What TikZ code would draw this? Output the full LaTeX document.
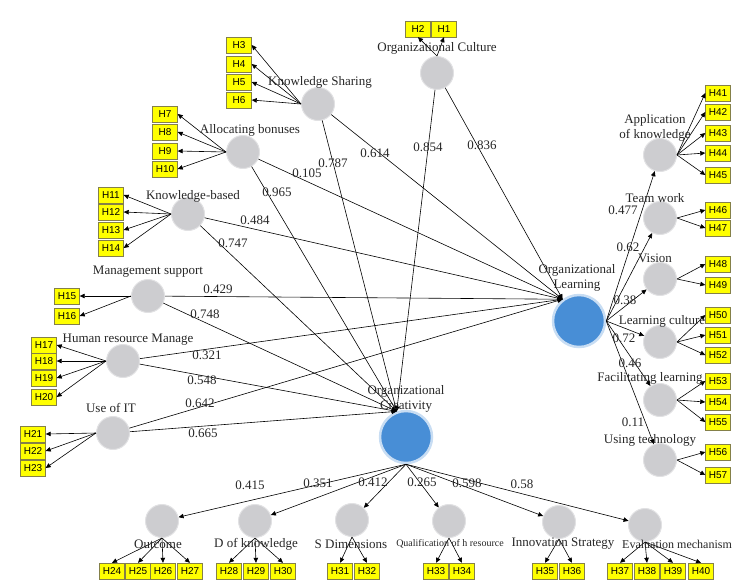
\documentclass[tikz,border=0pt]{standalone}
\usepackage{fontspec}
\setmainfont{Liberation Serif}
\newfontfamily\boxfont{Liberation Sans}
\usetikzlibrary{arrows.meta}
\definecolor{plsblue}{RGB}{72,142,214}
\definecolor{lvgray}{RGB}{205,205,208}
\definecolor{indyellow}{RGB}{255,255,0}
\begin{document}
\begin{tikzpicture}[x=1pt,y=-1pt,
    lv/.style={circle,fill=lvgray,draw=lvgray!60,line width=1pt,minimum size=33pt,inner sep=0pt},
    blv/.style={circle,fill=plsblue,draw=plsblue!30,line width=2.5pt,minimum size=52pt,inner sep=0pt},
    ind/.style={draw=black!55!yellow,fill=indyellow,minimum width=25pt,minimum height=16pt,inner sep=1pt,font=\boxfont\fontsize{10}{10}\selectfont},
    lbl/.style={font=\fontsize{13}{15}\selectfont,align=center,text=black!85,inner sep=0pt},
    coef/.style={font=\fontsize{13}{13}\selectfont,text=black!85,inner sep=0pt},
    arr/.style={-{Triangle[length=5pt,width=4.5pt]},black,line width=0.6pt}]
    \useasboundingbox (0,0) rectangle (735,582);
    % latent variables
    \node[blv] (oc) at (406,437) {};
    \node[blv] (ol) at (579,321) {};
    \node[lv] (ocu) at (437,73) {};
    \node[lv] (ks) at (318,104) {};
    \node[lv] (ab) at (243,152) {};
    \node[lv] (kb) at (188,214) {};
    \node[lv] (ms) at (148,296) {};
    \node[lv] (hrm) at (123,361) {};
    \node[lv] (uit) at (113,433) {};
    \node[lv] (app) at (660,155) {};
    \node[lv] (tw) at (660,218) {};
    \node[lv] (vis) at (660,279) {};
    \node[lv] (lc) at (660,342) {};
    \node[lv] (fl) at (660,400) {};
    \node[lv] (ut) at (660,460) {};
    \node[lv] (out) at (162,521) {};
    \node[lv] (dk) at (255,521) {};
    \node[lv] (sd) at (352,520) {};
    \node[lv] (qh) at (449,521) {};
    \node[lv] (is) at (559,522) {};
    \node[lv] (em) at (645,525) {};
    % inner model
    \foreach \s in {ocu,ks,ab,kb,ms,hrm,uit} {
        \draw[arr] (\s) -- (oc.110);
        \draw[arr] (\s) -- (ol.127);
    }
    \foreach \t in {app,tw,vis,lc,fl,ut} \draw[arr] (ol.east) -- (\t);
    \foreach \t in {out,dk,sd,qh,is,em} \draw[arr] (oc.south) -- (\t);
    % indicators
    \foreach \n/\x in {2/418,1/444} {
        \node[ind] (h\n) at (\x,29) {H\n};
        \draw[arr] (ocu.north) -- (h\n.south);
    }
    \foreach \n/\y in {3/45,4/64,5/82,6/100} {
        \node[ind] (h\n) at (239,\y) {H\n};
        \draw[arr] (ks.west) -- (h\n.east);
    }
    \foreach \n/\y in {7/114,8/132,9/151,10/169} {
        \node[ind] (h\n) at (165,\y) {H\n};
        \draw[arr] (ab.west) -- (h\n.east);
    }
    \foreach \n/\y in {11/195,12/212,13/230,14/248} {
        \node[ind] (h\n) at (111,\y) {H\n};
        \draw[arr] (kb.west) -- (h\n.east);
    }
    \foreach \n/\y in {15/296,16/316} {
        \node[ind] (h\n) at (67,\y) {H\n};
        \draw[arr] (ms.west) -- (h\n.east);
    }
    \foreach \n/\y in {17/345,18/361,19/378,20/397} {
        \node[ind] (h\n) at (44,\y) {H\n};
        \draw[arr] (hrm.west) -- (h\n.east);
    }
    \foreach \n/\y in {21/434,22/451,23/468} {
        \node[ind] (h\n) at (33,\y) {H\n};
        \draw[arr] (uit.west) -- (h\n.east);
    }
    \foreach \n/\y in {41/93,42/112,43/133,44/153,45/175} {
        \node[ind] (h\n) at (718,\y) {H\n};
        \draw[arr] (app.east) -- (h\n.west);
    }
    \foreach \n/\y in {46/210,47/228} {
        \node[ind] (h\n) at (718,\y) {H\n};
        \draw[arr] (tw.east) -- (h\n.west);
    }
    \foreach \n/\y in {48/264,49/285} {
        \node[ind] (h\n) at (718,\y) {H\n};
        \draw[arr] (vis.east) -- (h\n.west);
    }
    \foreach \n/\y in {50/315,51/335,52/355} {
        \node[ind] (h\n) at (718,\y) {H\n};
        \draw[arr] (lc.east) -- (h\n.west);
    }
    \foreach \n/\y in {53/381,54/402,55/422} {
        \node[ind] (h\n) at (718,\y) {H\n};
        \draw[arr] (fl.east) -- (h\n.west);
    }
    \foreach \n/\y in {56/452,57/475} {
        \node[ind] (h\n) at (718,\y) {H\n};
        \draw[arr] (ut.east) -- (h\n.west);
    }
    \foreach \n/\x in {24/112,25/138,26/163,27/190} {
        \node[ind] (h\n) at (\x,571) {H\n};
        \draw[arr] (out.south) -- (h\n.north);
    }
    \foreach \n/\x in {28/229,29/256,30/283} {
        \node[ind] (h\n) at (\x,571) {H\n};
        \draw[arr] (dk.south) -- (h\n.north);
    }
    \foreach \n/\x in {31/340,32/367} {
        \node[ind] (h\n) at (\x,571) {H\n};
        \draw[arr] (sd.south) -- (h\n.north);
    }
    \foreach \n/\x in {33/436,34/462} {
        \node[ind] (h\n) at (\x,571) {H\n};
        \draw[arr] (qh.south) -- (h\n.north);
    }
    \foreach \n/\x in {35/545,36/572} {
        \node[ind] (h\n) at (\x,571) {H\n};
        \draw[arr] (is.south) -- (h\n.north);
    }
    \foreach \n/\x in {37/620,38/647,39/673,40/701} {
        \node[ind] (h\n) at (\x,571) {H\n};
        \draw[arr] (em.south) -- (h\n.north);
    }
    % construct names
    \node[lbl] (ocl) at (406,399) {Organizational\\Creativity};
    \node[lbl] (oll) at (577,278) {Organizational\\Learning};
    \node[lbl] (ocul) at (437,48) {Organizational Culture};
    \node[lbl] (ksl) at (320,82) {Knowledge Sharing};
    \node[lbl] (abl) at (250,130) {Allocating bonuses};
    \node[lbl] (kbl) at (193,196) {Knowledge-based};
    \node[lbl] (msl) at (148,272) {Management support};
    \node[lbl] (hrml) at (128,340) {Human resource Manage};
    \node[lbl] (uitl) at (111,408) {Use of IT};
    \node[lbl] (appl) at (655,128) {Application\\of knowledge};
    \node[lbl] (twl) at (655,198) {Team work};
    \node[lbl] (visl) at (655,258) {Vision};
    \node[lbl] (lcl) at (662,321) {Learning culture};
    \node[lbl] (fll) at (650,378) {Facilitating learning};
    \node[lbl] (utl) at (650,440) {Using technology};
    \node[lbl] (outl) at (158,544) {Outcome};
    \node[lbl] (dkl) at (256,544) {D of knowledge};
    \node[lbl] (sdl) at (351,544) {S Dimensions};
    \node[lbl,font=\fontsize{10}{12}\selectfont] (qhl) at (450,544) {Qualification of h resource};
    \node[lbl] (isl) at (563,544) {Innovation Strategy};
    \node[lbl,font=\fontsize{12}{14}\selectfont] (eml) at (677,544) {Evaluation mechanism};
    % path coefficients
    \foreach \v/\x/\y [count=\i] in {0.854/428/147,0.836/482/145,0.787/333/163,0.614/375/153,
        0.965/277/192,0.105/307/173,0.484/255/220,0.747/233/243,0.429/218/289,0.748/205/314,
        0.321/207/355,0.548/202/380,0.642/200/403,0.665/203/433,
        0.477/623/210,0.62/628/247,0.38/625/300,0.72/624/338,0.46/630/363,0.11/633/422,
        0.415/250/485,0.351/318/483,0.412/373/482,0.265/422/482,0.598/467/483,0.58/522/484}
        \node[coef] (c\i) at (\x,\y) {\v};
\end{tikzpicture}
\end{document}
